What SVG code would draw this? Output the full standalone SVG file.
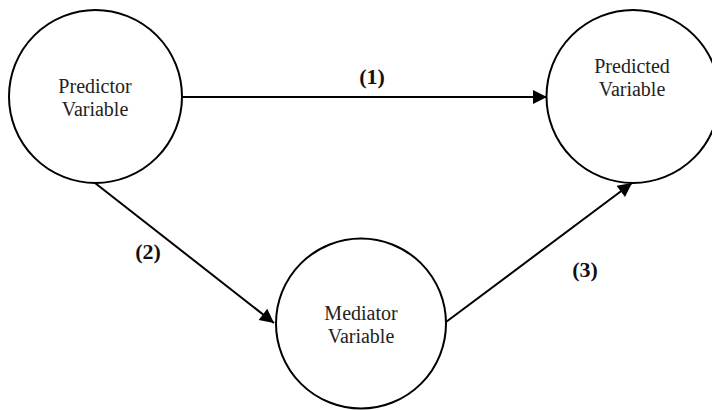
<svg xmlns="http://www.w3.org/2000/svg" width="712" height="410" viewBox="0 0 712 410">
<style>
.node{fill:#fff;stroke:#000;stroke-width:2}
.t{font-family:"Liberation Serif","DejaVu Serif",serif;font-size:20px;fill:#222;text-anchor:middle}
.lbl{font-family:"Liberation Serif","DejaVu Serif",serif;font-size:22px;font-weight:bold;fill:#111;text-anchor:middle}
.edge{stroke:#000;stroke-width:2;fill:none;marker-end:url(#ah)}
</style>
<defs>
<marker id="ah" viewBox="0 0 10 10" refX="10" refY="5" markerWidth="8" markerHeight="7" markerUnits="strokeWidth" orient="auto">
<path d="M0,0 L10,5 L0,10 z" fill="#000"/>
</marker>
</defs>
<rect width="712" height="410" fill="#fff"/>
<g id="connectors">
<line class="edge" x1="182" y1="97" x2="547" y2="97"/>
<line class="edge" x1="95" y1="183" x2="274" y2="323"/>
<line class="edge" x1="446" y1="322" x2="632" y2="183"/>
</g>
<g id="predictor">
<circle class="node" cx="95.5" cy="96.5" r="86.5"/>
<text class="t" x="95" y="93">Predictor</text>
<text class="t" x="95" y="116">Variable</text>
</g>
<g id="predicted">
<circle class="node" cx="633" cy="96.5" r="86.5"/>
<text class="t" x="632" y="73">Predicted</text>
<text class="t" x="632" y="96">Variable</text>
</g>
<g id="mediator">
<circle class="node" cx="361" cy="323.5" r="85"/>
<text class="t" x="361" y="320">Mediator</text>
<text class="t" x="361" y="343">Variable</text>
</g>
<g id="labels">
<text class="lbl" x="372" y="84">(1)</text>
<text class="lbl" x="148" y="259">(2)</text>
<text class="lbl" x="585" y="277">(3)</text>
</g>
</svg>
